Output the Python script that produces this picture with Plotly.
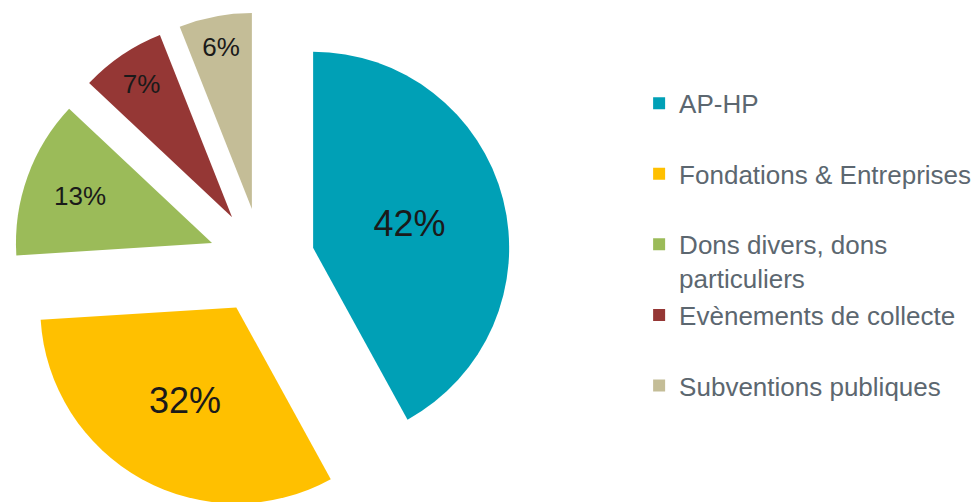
import plotly.graph_objects as go

# répartition des ressources
labels = ['AP-HP<br> ', 'Fondations & Entreprises<br> ', 'Dons divers, dons<br>particuliers',
          'Evènements de collecte<br> ', 'Subventions publiques<br> ']
values = [42, 32, 13, 7, 6]
colors = ['#00A0B6', '#FFC000', '#9BBB59', '#953735', '#C4BD97']
labelSizes = [36, 36, 26, 26, 26]

fig = go.Figure()
fig.add_trace(go.Pie(
    labels=labels,
    values=values,
    sort=False,
    direction='clockwise',
    rotation=0,
    pull=0.27,
    marker=dict(colors=colors, line=dict(width=0)),
    textinfo='percent',
    texttemplate='%{percent:.0%}',
    textposition='inside',
    insidetextorientation='horizontal',
    textfont=dict(size=labelSizes, color='#1a1a1a', family='Arial, Liberation Sans'),
    domain=dict(x=[0.0, 0.518], y=[0, 1]),
    hoverinfo='label+percent',
))

fig.update_layout(
    width=980,
    height=502,
    margin=dict(l=0, r=0, t=4, b=0),
    paper_bgcolor='white',
    plot_bgcolor='white',
    showlegend=True,
    legend=dict(
        x=0.644,
        xanchor='left',
        y=0.864,
        yanchor='top',
        valign='top',
        font=dict(family='Arial, Liberation Sans', size=26, color='#5c6770'),
        bgcolor='rgba(0,0,0,0)',
    ),
    font=dict(family='Arial, Liberation Sans'),
)

fig.write_html('out.html')
